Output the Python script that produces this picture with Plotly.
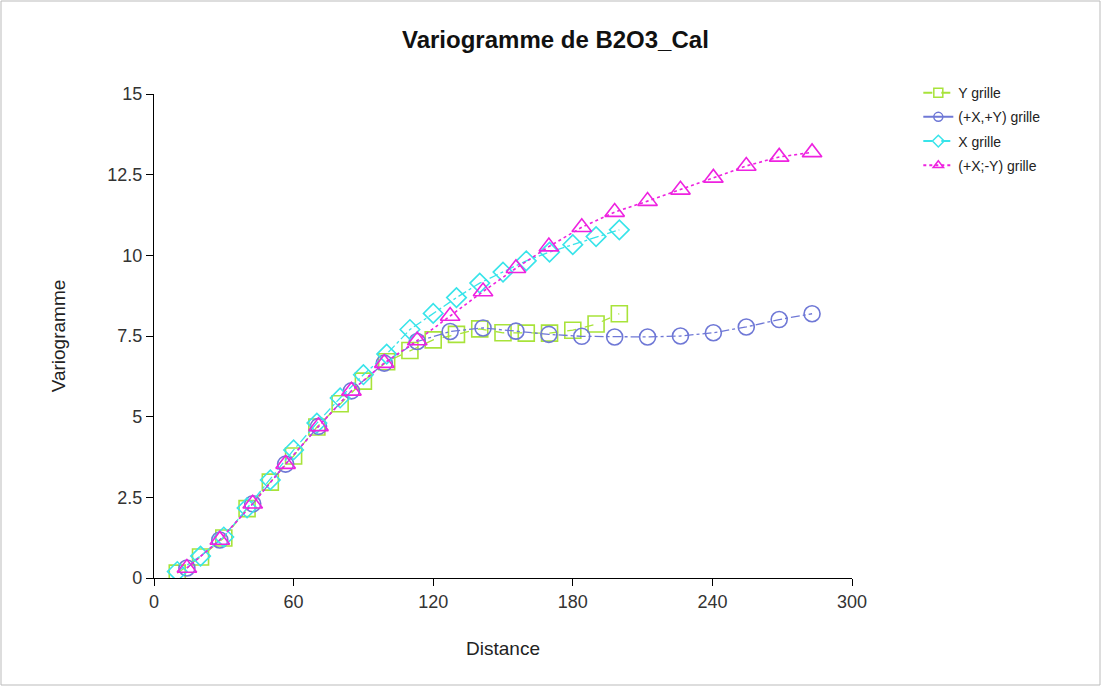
import plotly.graph_objects as go

# Data
x_grid = [10, 20, 30, 40, 50, 60, 70, 80, 90, 100, 110, 120, 130, 140, 150, 160, 170, 180, 190, 200]
y_grille = [0.15, 0.65, 1.24, 2.15, 2.97, 3.78, 4.68, 5.40, 6.10, 6.70, 7.05, 7.38, 7.55, 7.72, 7.60, 7.59, 7.59, 7.68, 7.87, 8.19]
x_grille = [0.20, 0.68, 1.27, 2.17, 3.04, 3.97, 4.80, 5.58, 6.30, 6.94, 7.70, 8.20, 8.69, 9.14, 9.48, 9.83, 10.10, 10.33, 10.58, 10.79]

x_diag = [14.14, 28.28, 42.43, 56.57, 70.71, 84.85, 98.99, 113.14, 127.28, 141.42,
          155.56, 169.71, 183.85, 197.99, 212.13, 226.27, 240.42, 254.56, 268.70, 282.84]
xy_pos = [0.31, 1.18, 2.30, 3.53, 4.70, 5.80, 6.66, 7.33, 7.64, 7.75,
          7.65, 7.55, 7.49, 7.47, 7.47, 7.50, 7.60, 7.78, 8.01, 8.19]
xy_neg = [0.31, 1.18, 2.30, 3.53, 4.70, 5.80, 6.66, 7.36, 8.12, 8.88,
          9.60, 10.27, 10.87, 11.34, 11.68, 12.03, 12.40, 12.77, 13.05, 13.19]

x_ticks = [0, 60, 120, 180, 240, 300]
y_ticks = [0, 2.5, 5, 7.5, 10, 12.5, 15]
y_tick_text = ["0", "2.5", "5", "7.5", "10", "12.5", "15"]

series_names = ["Y grille", "(+X,+Y) grille", "X grille", "(+X;-Y) grille"]
series_colors = ["#a8e33a", "#6f78d6", "#38e4ea", "#ee22e0"]
series_symbols = ["square-open", "circle-open", "diamond-open", "triangle-up-open"]
series_dash = ["dash", "dashdot", "dash", "dot"]
series_x = [x_grid, x_diag, x_grid, x_diag]
series_y = [y_grille, xy_pos, x_grille, xy_neg]
marker_sizes = [16, 16, 15, 17]

FONT = "Liberation Sans, Arial, sans-serif"

fig = go.Figure()

for i in range(4):
    fig.add_trace(go.Scatter(
        x=series_x[i], y=series_y[i], name=series_names[i], mode="lines+markers",
        showlegend=False,
        line=dict(color=series_colors[i], width=1.3 if i != 3 else 1.6,
                  dash="dashdot" if i in (1, 2) else series_dash[i]),
        marker=dict(symbol=series_symbols[i], size=marker_sizes[i], color=series_colors[i],
                    line=dict(width=1.6)),
    ))

# legend entries with small markers, as in the reference
for i in range(4):
    fig.add_trace(go.Scatter(
        x=[None], y=[None], name=series_names[i], mode="lines+markers", legendgroup=str(i),
        line=dict(color=series_colors[i], width=2, dash=series_dash[i] if i != 1 else "solid"),
        marker=dict(symbol=series_symbols[i], size=9, color=series_colors[i],
                    line=dict(width=1.5)),
    ))

fig.update_layout(
    width=1102, height=686,
    paper_bgcolor="white", plot_bgcolor="white",
    margin=dict(l=154, r=250, t=94, b=108),
    font=dict(family=FONT, color="#333333"),
    title=dict(text="<b>Variogramme de B2O3_Cal</b>", x=0.504, xref="container",
               xanchor="center", y=0.942, yanchor="middle", yref="container",
               font=dict(family=FONT, size=24, color="#111111")),
    xaxis=dict(range=[0, 300], tickvals=x_ticks, ticks="outside", ticklen=7,
               showline=True, linecolor="black", linewidth=1.2, tickcolor="black",
               showgrid=False, zeroline=False, tickfont=dict(size=18, color="#333333"),
               title=dict(text="Distance", font=dict(size=19, color="#222222"), standoff=30)),
    yaxis=dict(range=[0, 15], tickvals=y_ticks, ticktext=y_tick_text, ticks="outside", ticklen=7,
               showline=True, linecolor="black", linewidth=1.2, tickcolor="black",
               showgrid=False, zeroline=False, tickfont=dict(size=18, color="#333333"),
               title=dict(text="Variogramme", font=dict(size=19, color="#222222"), standoff=36)),
    legend=dict(x=1.095, y=1.035, xanchor="left", yanchor="top",
                font=dict(family=FONT, size=14, color="#222222"),
                traceorder="grouped", tracegroupgap=3, itemwidth=30,
                bgcolor="rgba(0,0,0,0)"),
    shapes=[dict(type="rect", xref="paper", yref="paper",
                 x0=-153 / 698, x1=(1100 - 154) / 698, y0=-107 / 484, y1=(578 - 1) / 484,
                 line=dict(color="#bbbbbb", width=1), layer="below")],
)

fig.write_html("out.html")
